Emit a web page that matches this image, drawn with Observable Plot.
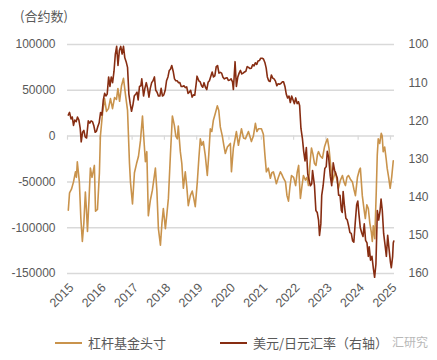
<!DOCTYPE html>
<html>
<head>
<meta charset="utf-8">
<script src="https://cdn.jsdelivr.net/npm/d3@7"></script>
<script src="https://cdn.jsdelivr.net/npm/@observablehq/plot@0.6"></script>
<style>
  body { margin: 0; background: #fff; }
  #wrap { position: relative; width: 437px; height: 360px; font-family: "Noto Sans CJK SC", "Liberation Sans", sans-serif; color: #595959; }
  #title { position: absolute; left: 20px; top: 6px; font-size: 13px; }
  #chart { position: absolute; left: 0; top: 0; }
  .leg { position: absolute; top: 333px; font-size: 13px; display: flex; align-items: center; white-space: nowrap; }
  .leg span.sw { display: inline-block; width: 27px; height: 2px; margin-right: 6px; }
  #wm { position: absolute; left: 392px; top: 333px; font-size: 12px; color: #b8b8b8; }
</style>
</head>
<body>
<div id="wrap">
  <div id="chart"></div>
  <div id="title">(合约数)</div>
  <div class="leg" style="left:55px"><span class="sw" style="background:#C9934C"></span>杠杆基金头寸</div>
  <div class="leg" style="left:220px"><span class="sw" style="background:#872D12"></span>美元/日元汇率（右轴）</div>
  <div id="wm">汇研究</div>
</div>
<script>
// 杠杆基金头寸 (合约数)
const fundPoints = [
["2015-01-10",-81000],["2015-01-24",-62000],["2015-02-15",-58000],["2015-03-10",-50000],["2015-04-01",-39000],
["2015-04-12",-45000],["2015-04-22",-28000],["2015-05-15",-50000],["2015-06-01",-90000],["2015-06-18",-115000],
["2015-07-05",-95000],["2015-07-22",-61000],["2015-08-03",-80000],["2015-08-15",-104000],["2015-09-01",-70000],
["2015-09-17",-35000],["2015-10-05",-45000],["2015-10-20",-38000],["2015-11-01",-32000],["2015-11-14",-82000],
["2015-12-06",-80000],["2015-12-28",-40000],["2016-01-08",0],["2016-02-01",25000],["2016-02-24",41000],
["2016-03-17",27000],["2016-04-08",30000],["2016-05-01",41000],["2016-05-24",30000],["2016-06-16",42000],
["2016-07-08",40000],["2016-07-24",52000],["2016-08-12",38000],["2016-09-03",55000],["2016-09-25",63000],
["2016-10-18",45000],["2016-11-10",28000],["2016-12-02",-30000],["2016-12-13",-50000],["2017-01-05",-74000],
["2017-01-27",-40000],["2017-02-20",-30000],["2017-03-14",-22000],["2017-04-05",-5000],["2017-04-28",22000],
["2017-05-15",-5000],["2017-05-31",-28000],["2017-06-16",-17000],["2017-07-03",-87000],["2017-07-26",-70000],
["2017-08-18",-59000],["2017-09-21",-35000],["2017-10-08",-60000],["2017-10-25",-101000],["2017-11-17",-119000],
["2017-12-04",-95000],["2017-12-20",-79000],["2018-01-12",-101000],["2018-01-29",-85000],["2018-02-15",-68000],
["2018-03-10",-20000],["2018-04-01",22000],["2018-04-23",12000],["2018-05-10",0],["2018-05-27",-3000],
["2018-06-07",11000],["2018-06-30",-17000],["2018-07-17",-30000],["2018-08-03",-57000],["2018-08-25",-39000],
["2018-09-11",-55000],["2018-09-28",-76000],["2018-10-21",-65000],["2018-11-12",-60000],["2018-11-29",-68000],
["2018-12-16",-77000],["2019-01-08",-50000],["2019-01-25",-25000],["2019-02-11",-3000],["2019-02-28",-10000],
["2019-03-17",-6000],["2019-04-08",-21000],["2019-05-01",-43000],["2019-05-18",-20000],["2019-06-04",8000],
["2019-06-21",5000],["2019-07-08",17000],["2019-07-31",25000],["2019-08-22",33000],["2019-09-08",28000],
["2019-09-25",10000],["2019-10-18",0],["2019-11-04",-10000],["2019-11-21",-19000],["2019-12-14",-12000],
["2020-01-17",-8000],["2020-01-29",-39000],["2020-02-20",-13000],["2020-03-25",5000],["2020-04-17",-10000],
["2020-05-21",8000],["2020-06-13",-2000],["2020-07-05",-3000],["2020-08-08",5000],["2020-09-11",-6000],
["2020-10-03",0],["2020-10-26",14000],["2020-11-12",5000],["2020-11-29",8000],["2021-01-02",8000],
["2021-01-24",2000],["2021-02-10",-20000],["2021-02-27",-39000],["2021-03-21",-35000],["2021-04-13",-46000],
["2021-04-30",-40000],["2021-05-17",-39000],["2021-06-03",-45000],["2021-06-20",-52000],["2021-07-13",-45000],
["2021-08-05",-39000],["2021-08-22",-42000],["2021-09-08",-46000],["2021-10-01",-50000],["2021-10-18",-65000],
["2021-11-04",-71000],["2021-11-21",-55000],["2021-12-08",-43000],["2022-01-01",-45000],["2022-01-24",-54000],
["2022-02-10",-40000],["2022-02-27",-32000],["2022-03-08",-50000],["2022-03-19",-68000],["2022-04-05",-55000],
["2022-04-22",-43000],["2022-05-15",-48000],["2022-06-01",-45000],["2022-06-18",-54000],["2022-07-05",-30000],
["2022-07-22",-13000],["2022-08-08",-20000],["2022-08-25",-30000],["2022-09-11",-32000],["2022-09-28",-20000],
["2022-10-09",-17000],["2022-11-01",-22000],["2022-11-23",-24000],["2022-12-16",-12000],["2023-01-08",-5000],
["2023-01-19",-3000],["2023-02-05",-13000],["2023-02-22",-30000],["2023-03-16",-50000],["2023-04-02",-44000],
["2023-04-19",-39000],["2023-05-06",-48000],["2023-05-23",-57000],["2023-06-15",-48000],["2023-07-07",-43000],
["2023-07-24",-50000],["2023-08-10",-54000],["2023-08-27",-45000],["2023-09-13",-43000],["2023-10-05",-47000],
["2023-10-28",-50000],["2023-11-14",-58000],["2023-12-01",-65000],["2023-12-24",-45000],["2024-01-15",-37000],
["2024-01-26",-35000],["2024-02-06",-50000],["2024-02-17",-65000],["2024-03-05",-78000],["2024-03-22",-90000],
["2024-04-08",-75000],["2024-04-25",-79000],["2024-05-12",-95000],["2024-05-29",-105000],["2024-06-09",-115000],
["2024-06-20",-98000],["2024-07-07",-112000],["2024-07-24",-60000],["2024-08-04",-21000],["2024-08-15",-3000],
["2024-09-01",-8000],["2024-09-18",3000],["2024-09-29",0],["2024-10-10",-17000],["2024-10-27",-12000],
["2024-11-13",-25000],["2024-11-24",-35000],["2024-12-11",-45000],["2024-12-28",-57000],["2025-01-14",-45000],
["2025-02-01",-27000]
];

// 美元/日元汇率 (右轴, 反向)
const jpyPoints = [
["2015-01-10",118.5],["2015-01-24",117.8],["2015-02-10",119.5],["2015-02-24",119.0],["2015-03-10",121.2],
["2015-03-24",119.8],["2015-04-10",120.2],["2015-04-24",119.0],["2015-05-10",119.8],["2015-05-25",122.0],
["2015-06-05",125.5],["2015-06-20",123.0],["2015-07-05",122.5],["2015-07-20",124.2],["2015-08-05",124.5],
["2015-08-24",120.0],["2015-09-10",120.6],["2015-09-25",120.0],["2015-10-10",120.2],["2015-10-25",121.2],
["2015-11-10",123.0],["2015-11-25",122.7],["2015-12-10",121.5],["2015-12-25",120.5],["2016-01-10",117.8],
["2016-01-25",118.5],["2016-02-10",114.5],["2016-02-25",112.8],["2016-03-10",113.5],["2016-03-25",113.0],
["2016-04-10",108.5],["2016-04-25",111.0],["2016-05-10",108.5],["2016-05-25",110.0],["2016-06-10",107.0],
["2016-06-25",102.5],["2016-07-10",100.5],["2016-07-25",105.5],["2016-08-10",101.5],["2016-08-25",100.5],
["2016-09-10",102.5],["2016-09-25",100.5],["2016-10-10",103.5],["2016-10-25",104.5],["2016-11-10",106.0],
["2016-11-25",113.0],["2016-12-10",115.5],["2016-12-25",117.5],["2017-01-10",115.8],["2017-01-25",113.5],
["2017-02-10",113.0],["2017-02-25",112.5],["2017-03-10",114.5],["2017-03-25",111.0],["2017-04-10",110.8],
["2017-04-20",109.0],["2017-05-10",113.5],["2017-05-25",111.5],["2017-06-10",110.0],["2017-06-25",111.5],
["2017-07-10",113.8],["2017-07-25",111.5],["2017-08-10",110.0],["2017-08-25",109.5],["2017-09-10",108.5],
["2017-09-25",112.0],["2017-10-10",112.5],["2017-10-25",113.5],["2017-11-10",113.5],["2017-11-25",111.5],
["2017-12-10",113.5],["2017-12-25",113.2],["2018-01-10",112.0],["2018-01-25",109.5],["2018-02-10",108.5],
["2018-02-25",106.8],["2018-03-10",106.5],["2018-03-25",105.5],["2018-04-10",107.0],["2018-04-25",109.0],
["2018-05-10",109.5],["2018-05-25",109.5],["2018-06-10",110.0],["2018-06-25",110.0],["2018-07-10",111.0],
["2018-07-25",111.0],["2018-08-10",110.8],["2018-08-25",111.3],["2018-09-10",111.1],["2018-09-25",112.8],
["2018-10-10",112.5],["2018-10-25",112.0],["2018-11-10",113.8],["2018-11-25",113.2],["2018-12-10",113.3],
["2018-12-25",110.5],["2019-01-05",108.3],["2019-01-25",109.5],["2019-02-10",109.8],["2019-02-25",110.8],
["2019-03-10",111.2],["2019-03-25",110.0],["2019-04-10",111.2],["2019-04-25",111.8],["2019-05-10",109.9],
["2019-05-25",109.5],["2019-06-10",108.3],["2019-06-25",107.2],["2019-07-10",108.5],["2019-07-25",108.2],
["2019-08-10",105.8],["2019-08-25",105.5],["2019-09-10",107.5],["2019-09-25",107.3],["2019-10-10",107.5],
["2019-10-25",108.6],["2019-11-10",109.0],["2019-11-25",108.8],["2019-12-10",108.7],["2019-12-25",109.4],
["2020-01-10",109.3],["2020-01-25",109.0],["2020-02-10",109.8],["2020-02-20",111.8],["2020-03-10",104.5],
["2020-03-25",111.0],["2020-04-10",108.5],["2020-04-25",107.5],["2020-05-10",106.8],["2020-05-25",107.7],
["2020-06-10",107.5],["2020-06-25",107.2],["2020-07-10",107.0],["2020-07-25",105.8],["2020-08-10",106.0],
["2020-08-25",106.3],["2020-09-10",106.2],["2020-09-25",105.3],["2020-10-10",105.6],["2020-10-25",104.8],
["2020-11-10",105.2],["2020-11-25",104.3],["2020-12-10",104.2],["2020-12-25",103.6],["2021-01-10",103.6],
["2021-01-25",103.8],["2021-02-10",104.7],["2021-02-25",106.2],["2021-03-10",108.5],["2021-03-25",109.5],
["2021-04-10",109.7],["2021-04-25",108.0],["2021-05-10",108.8],["2021-05-25",109.0],["2021-06-10",109.6],
["2021-06-25",110.8],["2021-07-10",110.3],["2021-07-25",110.4],["2021-08-10",110.2],["2021-08-25",109.8],
["2021-09-10",109.8],["2021-09-25",111.0],["2021-10-10",113.0],["2021-10-25",114.0],["2021-11-10",113.5],
["2021-11-25",115.2],["2021-12-10",113.5],["2021-12-25",114.5],["2022-01-10",115.5],["2022-01-25",114.0],
["2022-02-10",115.5],["2022-02-25",115.0],["2022-03-10",116.0],["2022-03-25",122.0],["2022-04-10",124.5],
["2022-04-25",128.0],["2022-05-10",130.5],["2022-05-25",127.0],["2022-06-10",134.0],["2022-06-25",135.5],
["2022-07-10",137.0],["2022-07-25",136.5],["2022-08-03",133.0],["2022-08-25",137.0],["2022-09-10",143.5],
["2022-09-25",144.0],["2022-10-10",146.0],["2022-10-21",150.0],["2022-11-05",147.0],["2022-11-15",139.5],
["2022-12-01",137.0],["2022-12-20",132.5],["2023-01-05",132.0],["2023-01-17",128.0],["2023-02-01",129.5],
["2023-02-20",134.5],["2023-03-08",137.0],["2023-03-25",131.0],["2023-04-10",133.0],["2023-04-25",134.0],
["2023-05-10",135.0],["2023-05-25",139.5],["2023-06-10",139.5],["2023-06-25",143.5],["2023-07-05",144.0],
["2023-07-15",138.5],["2023-07-31",142.5],["2023-08-15",145.5],["2023-08-31",146.0],["2023-09-15",147.5],
["2023-09-30",149.3],["2023-10-15",149.5],["2023-10-31",151.5],["2023-11-13",151.8],["2023-11-28",147.0],
["2023-12-15",142.0],["2023-12-28",141.0],["2024-01-10",144.5],["2024-01-25",148.0],["2024-02-10",149.3],
["2024-02-25",150.3],["2024-03-10",147.0],["2024-03-25",151.3],["2024-04-10",152.0],["2024-04-25",155.5],
["2024-05-05",153.0],["2024-05-20",156.5],["2024-06-05",155.5],["2024-06-20",158.5],["2024-07-05",161.0],
["2024-07-20",157.5],["2024-08-05",143.5],["2024-08-20",146.0],["2024-09-05",143.5],["2024-09-16",140.5],
["2024-09-30",143.5],["2024-10-15",149.5],["2024-10-31",152.5],["2024-11-15",155.5],["2024-11-30",150.0],
["2024-12-15",153.5],["2024-12-31",157.0],["2025-01-10",158.5],["2025-01-25",155.5],["2025-02-01",152.0],
["2025-02-07",151.5]
];

const leftTicks = [100000, 50000, 0, -50000, -100000, -150000];
const rightTicks = [100, 110, 120, 130, 140, 150, 160];
const yearTicks = [2015, 2016, 2017, 2018, 2019, 2020, 2021, 2022, 2023, 2024, 2025];

const tan = "#C9934C";
const dark = "#872D12";

// map right-axis (USD/JPY, inverted 100..160) onto left scale (100000..-150000)
const toLeft = v => 100000 - (v - 100) / 60 * 250000;
const fromLeft = y => 100 + (100000 - y) / 250000 * 60;

const fund = fundPoints.map(([d, v]) => ({date: new Date(d), value: v}));
const jpy = jpyPoints.map(([d, v]) => ({date: new Date(d), value: v}));
const years = yearTicks.map(y => new Date(Date.UTC(y, 0, 1)));

const chart = Plot.plot({
  width: 437,
  height: 315,
  marginTop: 44,
  marginBottom: 42,
  marginLeft: 67,
  marginRight: 43,
  style: {fontFamily: "'Liberation Sans', sans-serif", fontSize: "12px", color: "#595959", background: "#fff"},
  x: {type: "utc", domain: [new Date(Date.UTC(2015, 0, 1)), new Date(Date.UTC(2025, 1, 15))]},
  y: {domain: [-150000, 100000]},
  marks: [
    Plot.gridY(leftTicks, {stroke: "#d9d9d9", strokeOpacity: 1, strokeWidth: 1.5}),
    Plot.ruleX(years, {y1: 0, y2: -4500, stroke: "#d9d9d9", strokeWidth: 1.2}),
    Plot.axisY(leftTicks, {anchor: "left", tickSize: 0, tickPadding: 12, tickFormat: d => String(d), label: null, fill: "#595959", fontSize: 12}),
    Plot.axisY(rightTicks.map(toLeft), {anchor: "right", tickSize: 0, tickPadding: 14, tickFormat: d => String(Math.round(fromLeft(d))), label: null, fill: "#595959", fontSize: 12}),
    Plot.axisX(years, {anchor: "bottom", tickSize: 0, tickPadding: 12, tickRotate: -45, tickFormat: d => String(d.getUTCFullYear()), label: null, fill: "#595959", fontSize: 12.5, dx: 4}),
    Plot.line(fund, {x: "date", y: "value", stroke: tan, strokeWidth: 1.6}),
    Plot.line(jpy, {x: "date", y: d => toLeft(d.value), stroke: dark, strokeWidth: 1.6})
  ]
});
document.getElementById("chart").appendChild(chart);
</script>
</body>
</html>
